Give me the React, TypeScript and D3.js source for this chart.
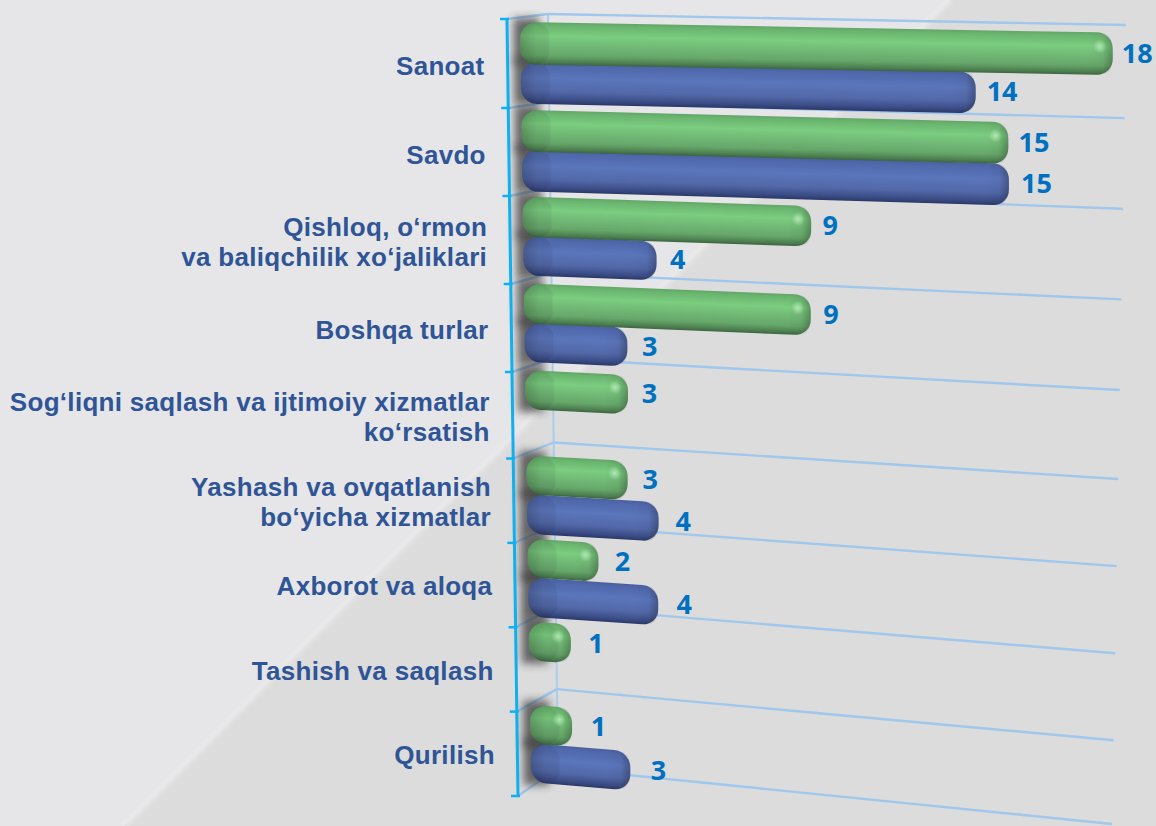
import React from "react";
import * as d3 from "d3";

const categories = [
  ["Sanoat"],
  ["Savdo"],
  ["Qishloq, o‘rmon", "va baliqchilik xo‘jaliklari"],
  ["Boshqa turlar"],
  ["Sog‘liqni saqlash va ijtimoiy xizmatlar", "ko‘rsatish"],
  ["Yashash va ovqatlanish", "bo‘yicha xizmatlar"],
  ["Axborot va aloqa"],
  ["Tashish va saqlash"],
  ["Qurilish"],
];
const greenValues = [18.2, 14.9, 8.7, 8.65, 2.9, 2.85, 1.9, 1.0, 1.0];
const blueValues: (number | null)[] = [13.9, 14.9, 3.85, 2.9, null, 3.8, 3.75, null, 2.8];

const W = 1156;
const H = 826;
const n = categories.length;

// perspective frame, all as functions of the continuous category index t
const tickY = d3.scaleLinear().domain([0, 1, 2, 4, 5, 9]).range([19, 108, 196, 372, 458.5, 796]);
const axisX = d3.scaleLinear().domain([0, 9]).range([507, 518]);
const backX = d3.scaleLinear().domain([0, 9]).range([548, 558]);
const backDy = d3.scaleLinear().domain([0, 1, 5, 8, 9]).range([-5, -6, -16, -22.5, -28]);
const gridEndX = d3.scaleLinear().domain([0, 9]).range([1126, 1112]);
const gridSlope = d3.scaleLinear().domain([0, 9]).range([0.019, 0.101]);
const barSlope = d3.scaleLinear().domain([0, 9]).range([0.016, 0.085]);
const barLen = d3.scaleLinear().domain([0, 18]).range([10, 586]);
const barThick = d3.scaleLinear().domain([0, 600]).range([38.5, 42.5]);
const greenOff = d3.scaleLinear().domain([0, 8]).range([3, -7]);
const blueOff = d3.scaleLinear().domain([0, 8]).range([43, 31.5]);
const fmt = d3.format(".0f");

const ticks = d3.range(0, n + 1);

function barGeom(i: number, kind: "g" | "b") {
  const t = i + (kind === "g" ? 0.25 : 0.72);
  return {
    x0: axisX(t) + 13,
    y0: tickY(i) + (kind === "g" ? greenOff(i) : blueOff(i)),
    s: barSlope(t),
  };
}

function Bar({ i, value, kind }: { i: number; value: number; kind: "g" | "b" }) {
  const { x0, y0, s } = barGeom(i, kind);
  const w = barLen(value);
  const h = barThick(w);
  const r = Math.min(16, w / 2);
  const m = `matrix(1 ${s} 0 1 ${x0} ${y0})`;
  const lbOffset = 9 + i * 1.2 + (kind === "b" ? 2 : 0);
  return (
    <g>
      <g transform={m}>
        <rect x={0} y={0} width={w} height={h} rx={r} ry={r} fill={`url(#body-${kind})`} />
        <rect x={0} y={0} width={Math.min(30, w)} height={h} rx={r} fill="url(#leftShade)" />
        <rect x={Math.max(0, w - 24)} y={0} width={Math.min(24, w)} height={h} rx={r} fill="url(#rightShade)" />
        {kind === "g" && <ellipse cx={w - 13} cy={h * 0.33} rx={6.5} ry={7} fill="url(#spot)" />}
      </g>
      <text
        x={x0 + w + lbOffset}
        y={y0 + s * w + h / 2 - 1}
        dy="0.36em"
        fontFamily="'Open Sans', sans-serif"
        fontWeight={700}
        fontSize={27}
        fill="#0070c0"
      >
        {fmt(value)}
      </text>
    </g>
  );
}

function BarShadow({ i, kind }: { i: number; kind: "g" | "b" }) {
  const { x0, y0 } = barGeom(i, kind);
  return (
    <rect
      x={x0 - 7}
      y={y0 - 4}
      width={26}
      height={46}
      fill="#2c2c2c"
      opacity={0.68}
      filter="url(#shadowBlur)"
    />
  );
}

export default function App() {
  return (
    <svg
      width={W}
      height={H}
      viewBox={`0 0 ${W} ${H}`}
      style={{ position: "fixed", left: 0, top: 0, display: "block" }}
    >
      <defs>
        <linearGradient id="body-g" x1="0" y1="0" x2="0" y2="1">
          <stop offset="0" stopColor="#62a567" />
          <stop offset="0.08" stopColor="#6ab56f" />
          <stop offset="0.32" stopColor="#7bcd80" />
          <stop offset="0.55" stopColor="#71b976" />
          <stop offset="0.78" stopColor="#66a66a" />
          <stop offset="0.93" stopColor="#4c7f50" />
          <stop offset="1" stopColor="#3d6442" />
        </linearGradient>
        <linearGradient id="body-b" x1="0" y1="0" x2="0" y2="1">
          <stop offset="0" stopColor="#4a60a0" />
          <stop offset="0.1" stopColor="#5068ac" />
          <stop offset="0.38" stopColor="#5b76bb" />
          <stop offset="0.7" stopColor="#5268a8" />
          <stop offset="0.9" stopColor="#3b4c85" />
          <stop offset="1" stopColor="#2a3767" />
        </linearGradient>
        <linearGradient id="leftShade" x1="0" y1="0" x2="1" y2="0">
          <stop offset="0" stopColor="#000" stopOpacity={0.22} />
          <stop offset="0.5" stopColor="#000" stopOpacity={0.08} />
          <stop offset="0.93" stopColor="#000" stopOpacity={0.06} />
          <stop offset="1" stopColor="#000" stopOpacity={0} />
        </linearGradient>
        <linearGradient id="rightShade" x1="0" y1="0" x2="1" y2="0">
          <stop offset="0" stopColor="#000" stopOpacity={0} />
          <stop offset="0.6" stopColor="#000" stopOpacity={0.04} />
          <stop offset="1" stopColor="#000" stopOpacity={0.26} />
        </linearGradient>
        <radialGradient id="spot">
          <stop offset="0" stopColor="#c8f5c8" stopOpacity={0.7} />
          <stop offset="1" stopColor="#c8f5c8" stopOpacity={0} />
        </radialGradient>
        <filter id="shadowBlur" x="-60%" y="-40%" width="220%" height="180%">
          <feGaussianBlur stdDeviation="4" />
        </filter>
        <filter id="bandBlur" x="-5%" y="-5%" width="110%" height="110%">
          <feGaussianBlur stdDeviation="2.5" />
        </filter>
      </defs>

      {/* backdrop */}
      <rect width={W} height={H} fill="#dcdcdc" />
      <polygon points={`0,0 950,0 124,826 0,826`} fill="#e6e6e8" />
      <line x1={950} y1={0} x2={124} y2={826} stroke="#ebebec" strokeWidth={4} filter="url(#bandBlur)" />

      {/* back wall, floor lines and gridlines */}
      <line
        x1={backX(0)}
        y1={tickY(0) + backDy(0)}
        x2={backX(9)}
        y2={tickY(9) + backDy(9)}
        stroke="#a9cdec"
        strokeWidth={2}
      />
      {ticks.map((t) => {
        const bx = backX(t);
        const by = tickY(t) + backDy(t);
        const ex = gridEndX(t);
        return (
          <g key={t} stroke="#a0c7ec" strokeWidth={2.4} fill="none">
            <line x1={axisX(t)} y1={tickY(t)} x2={bx} y2={by} />
            <line x1={bx} y1={by} x2={ex} y2={by + gridSlope(t) * (ex - bx)} />
          </g>
        );
      })}

      {/* shadows on the wall */}
      {greenValues.map((_, i) => (
        <g key={i}>
          <BarShadow i={i} kind="g" />
          {blueValues[i] != null && <BarShadow i={i} kind="b" />}
        </g>
      ))}

      {/* bars */}
      {greenValues.map((v, i) => (
        <g key={i}>
          {blueValues[i] != null && <Bar i={i} value={blueValues[i] as number} kind="b" />}
          <Bar i={i} value={v} kind="g" />
        </g>
      ))}

      {/* category axis */}
      <line x1={axisX(0)} y1={tickY(0)} x2={axisX(9)} y2={tickY(9)} stroke="#0fb0f0" strokeWidth={3} />
      {ticks.map((t) => (
        <line
          key={t}
          x1={axisX(t) - 7}
          x2={axisX(t) + 2}
          y1={tickY(t)}
          y2={tickY(t)}
          stroke="#0fb0f0"
          strokeWidth={2.5}
        />
      ))}

      {/* category labels */}
      {categories.map((lines, i) => {
        const cy = (tickY(i) + tickY(i + 1)) / 2 + 2.5 - i * 0.25;
        const lh = 30;
        return (
          <text
            key={i}
            textAnchor="end"
            fontFamily="'Liberation Sans', Arial, sans-serif"
            fontWeight={700}
            fontSize={26}
            letterSpacing={0.3}
            fill="#2f5597"
          >
            {lines.map((l, j) => (
              <tspan
                key={j}
                x={484.5 + i * 1.3}
                y={cy + (j - (lines.length - 1) / 2) * lh}
                dy="0.36em"
              >
                {l}
              </tspan>
            ))}
          </text>
        );
      })}
    </svg>
  );
}
